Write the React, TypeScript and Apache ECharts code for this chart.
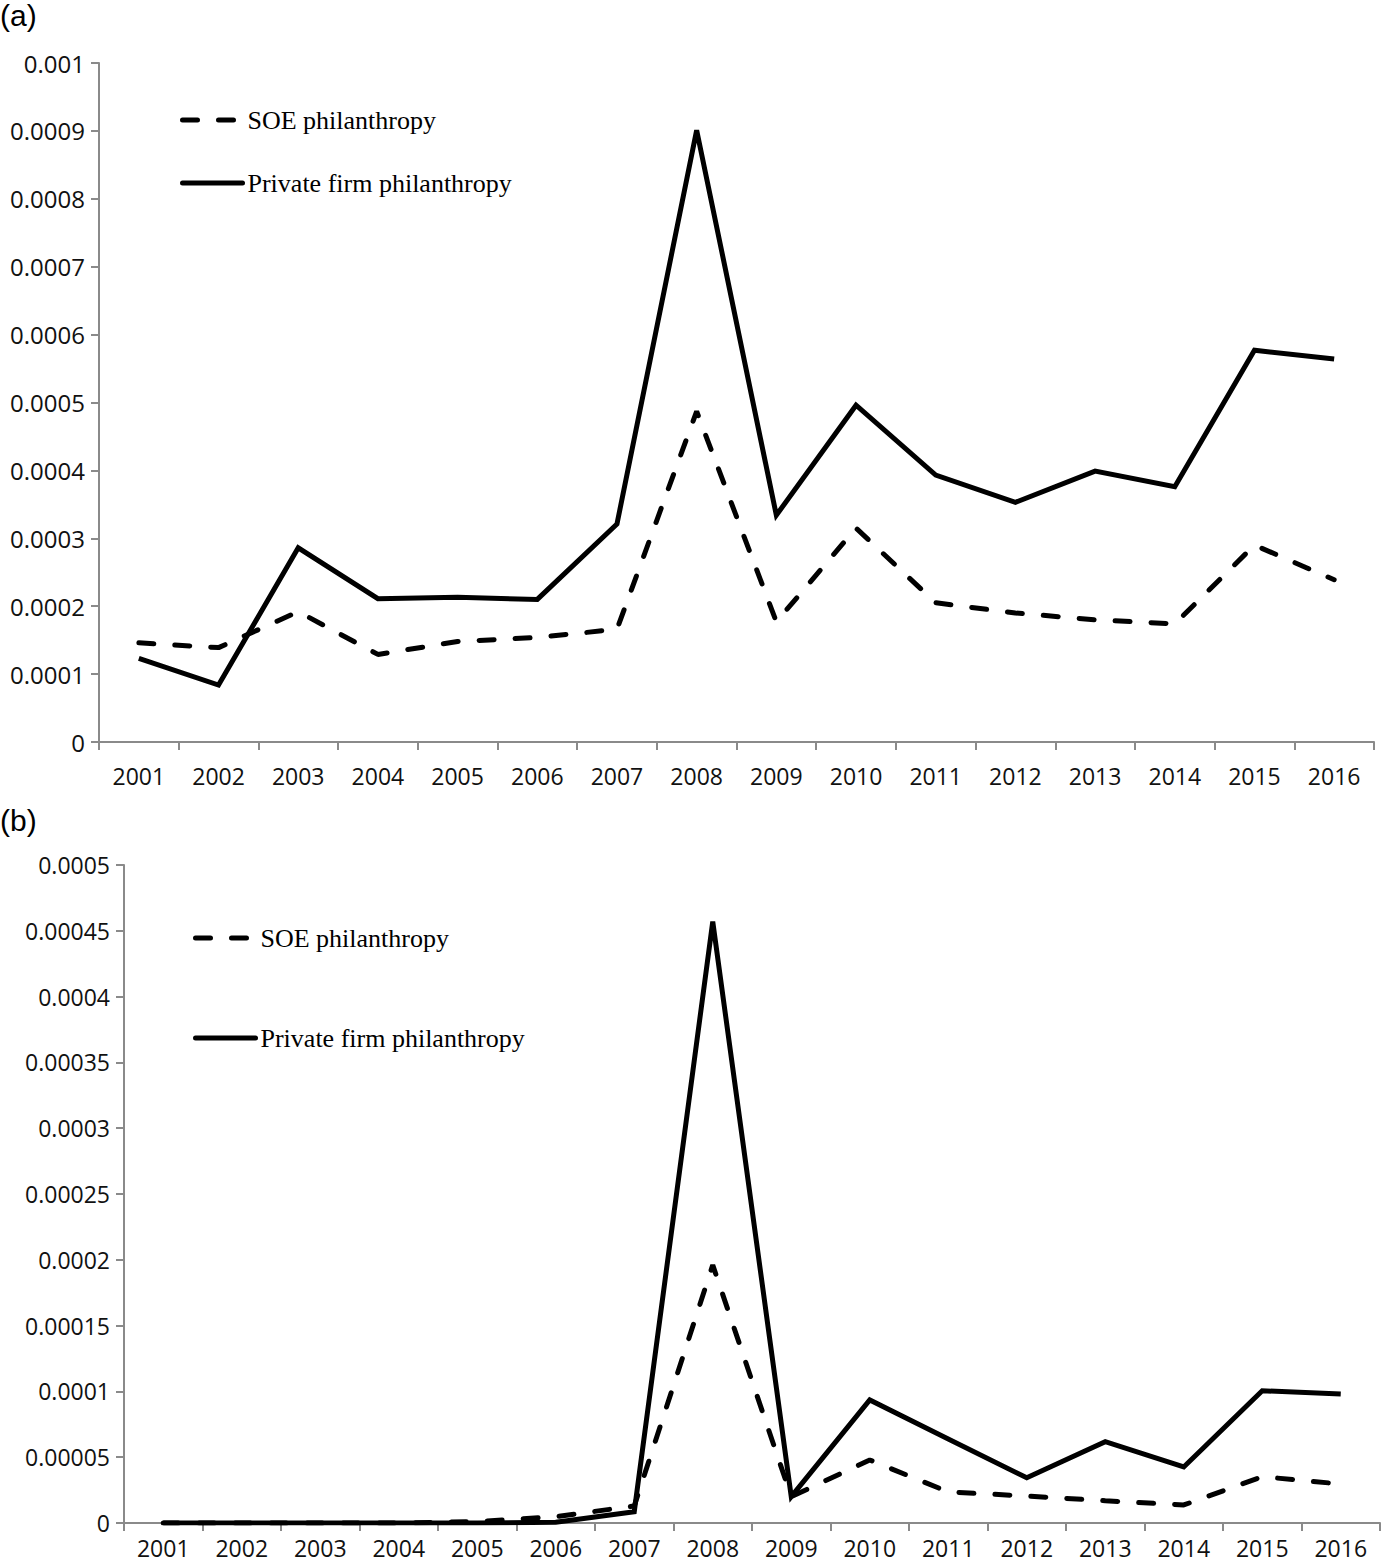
import React, { useEffect, useRef } from "react";
import * as echarts from "echarts";

const years = ["2001","2002","2003","2004","2005","2006","2007","2008","2009","2010","2011","2012","2013","2014","2015","2016"];

// Panel (a)
const soeA = [0.000146,0.000139,0.000192,0.000129,0.000148,0.000154,0.000166,0.000487,0.000177,0.000315,0.000205,0.00019,0.00018,0.000174,0.00029,0.000239];
const privA = [0.000123,0.0000839,0.000286,0.000211,0.000213,0.00021,0.000321,0.000901,0.000334,0.000496,0.000393,0.000353,0.000399,0.000376,0.000577,0.000564];

// Panel (b)
const soeB = [0,0,0,0,0.000001,0.0000048,0.0000129,0.000196,0.00002,0.0000479,0.0000236,0.0000205,0.0000169,0.0000137,0.0000352,0.0000296];
const privB = [0,0,0,0,0,0.0000005,0.0000086,0.000457,0.00002,0.0000935,0.0000638,0.0000344,0.0000618,0.0000426,0.0001005,0.000098];

const SOE = "SOE philanthropy";
const PRIV = "Private firm philanthropy";

const axisGray = "#8a8a8a";
const fmt = (v: number) => String(parseFloat(Number(v).toFixed(7)));

export default function App() {
  const ref = useRef<HTMLDivElement>(null);
  useEffect(() => {
    if (!ref.current) return;
    const chart = echarts.init(ref.current, undefined, { renderer: "svg" });
    const xAxisBase = (gridIndex: number, margin: number) => ({
      type: "category" as const,
      gridIndex,
      data: years,
      boundaryGap: true,
      axisLine: { lineStyle: { color: axisGray, width: 2 } },
      axisTick: { show: true, length: 8, interval: 0, lineStyle: { color: axisGray, width: 2 } },
      axisLabel: { interval: 0, margin, color: "#111", fontFamily: "'Open Sans', sans-serif", fontSize: 23, lineHeight: 24 },
      splitLine: { show: false },
    });
    const yAxisBase = (gridIndex: number, max: number, interval: number, fs: number) => ({
      type: "value" as const,
      gridIndex,
      min: 0,
      max,
      interval,
      axisLine: { show: true, lineStyle: { color: axisGray, width: 2 } },
      axisTick: { show: true, length: 8, lineStyle: { color: axisGray, width: 2 } },
      axisLabel: { margin: 14, color: "#111", fontFamily: "'Open Sans', sans-serif", fontSize: fs, formatter: fmt },
      splitLine: { show: false },
    });
    const dashed = { color: "#000", width: 5, type: [15, 21] as number[], cap: "round" as const };
    const solid = { color: "#000", width: 5, type: "solid" as const, join: "miter" as const };
    const legendText = { fontFamily: "'Liberation Serif', serif", fontSize: 26, color: "#000", lineHeight: 30 };
    const legendCommon = {
      orient: "vertical" as const,
      padding: 0,
      itemWidth: 60,
      itemHeight: 14,
      data: [SOE, PRIV],
      textStyle: legendText,
      selectedMode: false,
      itemStyle: { opacity: 0 },
      lineStyle: { width: 5, cap: "round" as const },
    };
    chart.setOption({
      animation: false,
      backgroundColor: "#fff",
      grid: [
        { left: 99, right: 15, top: 63, height: 679 },
        { left: 124, right: 9, top: 865, height: 658 },
      ],
      xAxis: [xAxisBase(0, 22), xAxisBase(1, 13)],
      yAxis: [yAxisBase(0, 0.001, 0.0001, 24), yAxisBase(1, 0.0005, 0.00005, 23)],
      legend: [
        { ...legendCommon, left: 180, top: 105, itemGap: 33 },
        { ...legendCommon, left: 193, top: 923, itemGap: 70 },
      ],
      graphic: [
        { type: "text", left: 0, top: 0, style: { text: "(a)", font: "30px 'Liberation Sans', sans-serif", fill: "#000" } },
        { type: "text", left: 0, top: 805, style: { text: "(b)", font: "30px 'Liberation Sans', sans-serif", fill: "#000" } },
      ],
      series: [
        { name: SOE, type: "line", xAxisIndex: 0, yAxisIndex: 0, data: soeA, symbol: "none", lineStyle: dashed, itemStyle: { color: "#000" } },
        { name: PRIV, type: "line", xAxisIndex: 0, yAxisIndex: 0, data: privA, symbol: "none", lineStyle: solid, itemStyle: { color: "#000" } },
        { name: SOE, type: "line", xAxisIndex: 1, yAxisIndex: 1, data: soeB, symbol: "none", lineStyle: dashed, itemStyle: { color: "#000" } },
        { name: PRIV, type: "line", xAxisIndex: 1, yAxisIndex: 1, data: privB, symbol: "none", lineStyle: solid, itemStyle: { color: "#000" } },
      ],
    });
    return () => chart.dispose();
  }, []);
  return (
    <div
      ref={ref}
      style={{ position: "absolute", left: 0, top: 0, width: 1389, height: 1567, background: "#fff" }}
    />
  );
}
